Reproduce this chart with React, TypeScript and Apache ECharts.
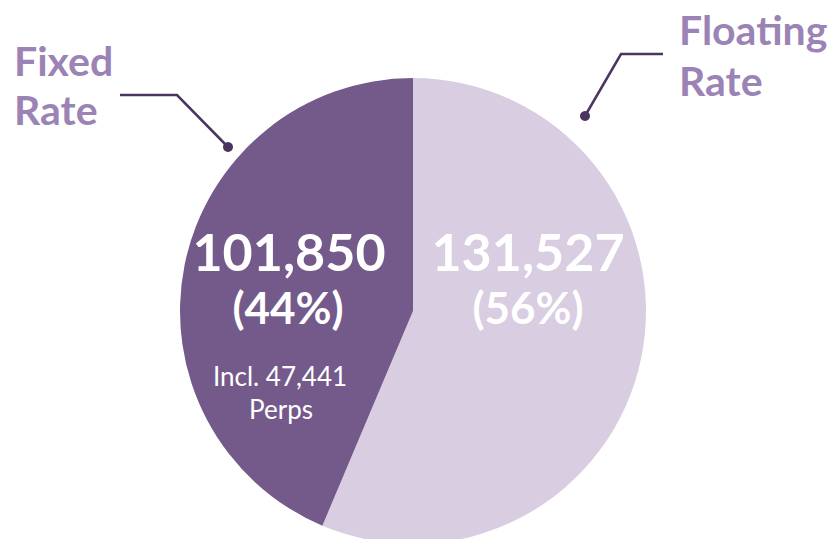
import React, { useEffect, useRef } from "react";
import * as echarts from "echarts";

const categories = ["Floating Rate", "Fixed Rate"];
const values = [131527, 101850];
const colors = ["#D9CDE1", "#735A8B"];
const perpsValue = 47441;
const noteLabel = "Incl.";
const noteSuffix = "Perps";

const fmt = (v: number) => v.toLocaleString("en-US");

export default function App() {
  const ref = useRef<HTMLDivElement>(null);
  useEffect(() => {
    document.body.style.margin = "0";
    if (!ref.current) return;
    const chart = echarts.init(ref.current, null, { renderer: "svg" });
    const total = values.reduce((a, b) => a + b, 0);
    const pct = values.map((v) => Math.round((v / total) * 100));
    const font = "Lato";
    const labelColor = "#9B84B5";
    const lineColor = "#4B3560";
    const txt = (
      x: number,
      y: number,
      text: string,
      size: number,
      weight: string,
      color: string,
      align: string
    ) => ({
      type: "text",
      x,
      y,
      silent: true,
      z: 10,
      style: {
        text,
        fontFamily: font,
        fontSize: size,
        fontWeight: weight,
        fill: color,
        align,
        verticalAlign: "middle",
      },
    });
    const [floatName, fixedName] = categories.map((c) => c.split(" "));
    chart.setOption({
      animation: false,
      series: [
        {
          type: "pie",
          center: [413, 311],
          radius: 233,
          startAngle: 90,
          clockwise: true,
          label: { show: false },
          labelLine: { show: false },
          itemStyle: { borderWidth: 0 },
          emphasis: { disabled: true },
          data: categories.map((c, i) => ({
            name: c,
            value: values[i],
            itemStyle: { color: colors[i] },
          })),
        },
      ],
      graphic: [
        txt(14, 60, fixedName[0], 41, "bold", labelColor, "left"),
        txt(14, 109, fixedName[1], 41, "bold", labelColor, "left"),
        txt(679, 29, floatName[0], 41, "bold", labelColor, "left"),
        txt(679, 80, floatName[1], 41, "bold", labelColor, "left"),
        {
          type: "polyline",
          silent: true,
          shape: { points: [[120, 95], [177, 95], [228, 147]] },
          style: { stroke: lineColor, lineWidth: 2.5, fill: null },
        },
        { type: "circle", silent: true, shape: { cx: 228, cy: 147, r: 5 }, style: { fill: lineColor } },
        {
          type: "polyline",
          silent: true,
          shape: { points: [[663, 54], [621, 54], [585, 116]] },
          style: { stroke: lineColor, lineWidth: 2.5, fill: null },
        },
        { type: "circle", silent: true, shape: { cx: 585, cy: 116, r: 5 }, style: { fill: lineColor } },
        txt(289, 251, fmt(values[1]), 52, "bold", "#FFFFFF", "center"),
        txt(288, 307, `(${pct[1]}%)`, 44, "bold", "#FFFFFF", "center"),
        txt(280, 376, `${noteLabel} ${fmt(perpsValue)}`, 26, "normal", "#FFFFFF", "center"),
        txt(281, 409, noteSuffix, 26, "normal", "#FFFFFF", "center"),
        txt(528, 251, fmt(values[0]), 52, "bold", "#FFFFFF", "center"),
        txt(528, 307, `(${pct[0]}%)`, 44, "bold", "#FFFFFF", "center"),
      ],
    });
    return () => chart.dispose();
  }, []);
  return <div ref={ref} style={{ width: 832, height: 539 }} />;
}
